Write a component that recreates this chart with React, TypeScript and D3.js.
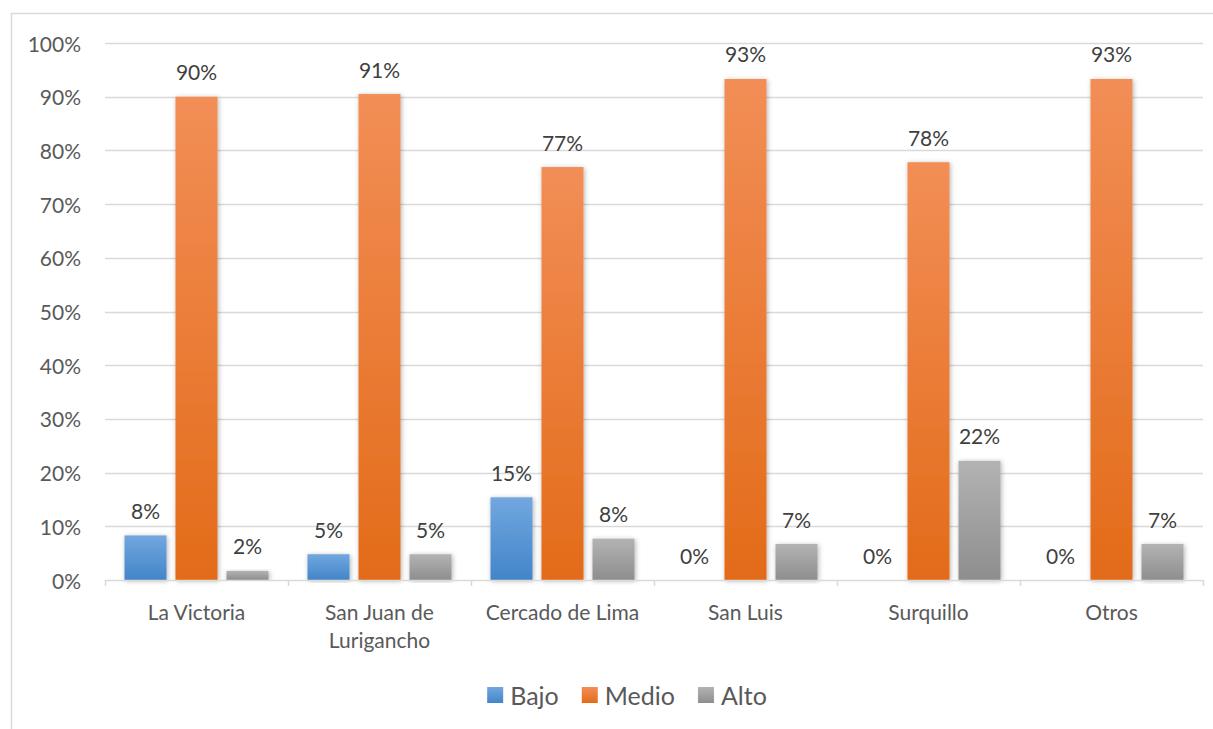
import React, { useEffect, useRef } from 'react';
import * as d3 from 'd3';

const categories = ['La Victoria', 'San Juan de Lurigancho', 'Cercado de Lima', 'San Luis', 'Surquillo', 'Otros'];
const categoryLines = [['La Victoria'], ['San Juan de', 'Lurigancho'], ['Cercado de Lima'], ['San Luis'], ['Surquillo'], ['Otros']];
const series = ['Bajo', 'Medio', 'Alto'];
const bajo = [0.083, 0.048, 0.154, 0, 0, 0];
const medio = [0.9, 0.905, 0.769, 0.933, 0.778, 0.933];
const alto = [0.017, 0.048, 0.077, 0.067, 0.222, 0.067];
const yTicks = [0, 0.1, 0.2, 0.3, 0.4, 0.5, 0.6, 0.7, 0.8, 0.9, 1];

const colors: Record<string, [string, string]> = {
    Bajo: ['#72a7de', '#4285ca'],
    Medio: ['#f28e56', '#e36b19'],
    Alto: ['#b3b3b3', '#8e8e8e'],
};

const FONT = 'Lato, "Open Sans", sans-serif';

const App: React.FC = () => {
    const ref = useRef<SVGSVGElement | null>(null);

    useEffect(() => {
        const svg = d3.select(ref.current);
        svg.selectAll('*').remove();

        const W = 1213, H = 729;
        const left = 105, right = 1203, top = 43, bottom = 580;

        const defs = svg.append('defs');
        series.forEach(s => {
            const g = defs.append('linearGradient')
                .attr('id', `grad-${s}`)
                .attr('x1', 0).attr('y1', 0).attr('x2', 0).attr('y2', 1);
            g.append('stop').attr('offset', '0%').attr('stop-color', colors[s][0]);
            g.append('stop').attr('offset', '100%').attr('stop-color', colors[s][1]);
        });
        const f = defs.append('filter').attr('id', 'shadow')
            .attr('x', '-30%').attr('y', '-10%').attr('width', '160%').attr('height', '120%');
        f.append('feDropShadow')
            .attr('dx', 1).attr('dy', 1).attr('stdDeviation', 2.5)
            .attr('flood-color', '#000').attr('flood-opacity', 0.3);

        svg.append('rect').attr('width', W).attr('height', H).attr('fill', '#fff');
        // outer frame (runs off the right and bottom edges)
        svg.append('rect')
            .attr('x', 11.5).attr('y', 13.5)
            .attr('width', W + 20).attr('height', H + 20)
            .attr('fill', 'none').attr('stroke', '#d9d9d9').attr('stroke-width', 1.5);

        const x = d3.scaleBand<string>().domain(categories).range([left, right]);
        const xs = d3.scaleBand<string>().domain(series)
            .range([0, x.bandwidth()]).paddingInner(0.176).paddingOuter(0.382);
        const y = d3.scaleLinear().domain([0, 1]).range([bottom, top]);

        // gridlines
        svg.append('g').selectAll('line')
            .data(yTicks.filter(t => t > 0))
            .join('line')
            .attr('x1', left).attr('x2', right)
            .attr('y1', d => Math.round(y(d)) + 0.5).attr('y2', d => Math.round(y(d)) + 0.5)
            .attr('stroke', '#d9d9d9').attr('stroke-width', 1.5);

        // y labels
        svg.append('g').selectAll('text')
            .data(yTicks)
            .join('text')
            .attr('x', 81).attr('y', d => y(d))
            .attr('text-anchor', 'end').attr('dominant-baseline', 'central')
            .attr('font-family', FONT).attr('font-size', 21).attr('fill', '#595959')
            .text(d => d3.format('.0%')(d));

        const values = [bajo, medio, alto];
        const rows = series.flatMap((s, si) => categories.map((c, ci) => ({ s, c, ci, v: values[si][ci] })));

        svg.append('g').selectAll('rect')
            .data(rows.filter(d => d.v > 0))
            .join('rect')
            .attr('x', d => (x(d.c) as number) + (xs(d.s) as number))
            .attr('y', d => y(d.v))
            .attr('width', xs.bandwidth())
            .attr('height', d => bottom - y(d.v))
            .attr('fill', d => `url(#grad-${d.s})`)
            .attr('filter', 'url(#shadow)');

        // axis line + category ticks
        const axis = svg.append('g');
        axis.append('line')
            .attr('x1', left).attr('x2', right)
            .attr('y1', bottom + 0.5).attr('y2', bottom + 0.5)
            .attr('stroke', '#d9d9d9').attr('stroke-width', 1.5);
        axis.selectAll('line.tick')
            .data([...categories.map(c => x(c) as number), right])
            .join('line')
            .attr('class', 'tick')
            .attr('x1', d => d + 0.5).attr('x2', d => d + 0.5)
            .attr('y1', bottom).attr('y2', bottom + 6)
            .attr('stroke', '#d9d9d9').attr('stroke-width', 1.5);

        // data labels
        svg.append('g').selectAll('text')
            .data(rows)
            .join('text')
            .attr('x', d => (x(d.c) as number) + (xs(d.s) as number) + xs.bandwidth() / 2)
            .attr('y', d => y(d.v) - 25)
            .attr('text-anchor', 'middle').attr('dominant-baseline', 'central')
            .attr('font-family', FONT).attr('font-size', 21).attr('fill', '#404040')
            .text(d => d3.format('.0%')(d.v));

        // category labels
        const cl = svg.append('g');
        categories.forEach((c, i) => {
            categoryLines[i].forEach((line, li) => {
                cl.append('text')
                    .attr('x', (x(c) as number) + x.bandwidth() / 2)
                    .attr('y', 611 + li * 28)
                    .attr('text-anchor', 'middle').attr('dominant-baseline', 'central')
                    .attr('font-family', FONT).attr('font-size', 21).attr('fill', '#595959')
                    .text(line);
            });
        });

        // legend
        const lg = svg.append('g');
        const items = series.map(s => {
            const g = lg.append('g');
            g.append('rect').attr('width', 16).attr('height', 16).attr('y', -8)
                .attr('fill', `url(#grad-${s})`);
            const t = g.append('text')
                .attr('x', 23).attr('dominant-baseline', 'central')
                .attr('font-family', FONT).attr('font-size', 25).attr('fill', '#595959')
                .text(s);
            const w = 23 + (t.node() as SVGTextElement).getComputedTextLength();
            return { g, w };
        });
        const gap = 23;
        const total = d3.sum(items, d => d.w) + gap * (items.length - 1);
        let cx = 627 - total / 2;
        items.forEach(it => {
            it.g.attr('transform', `translate(${cx},695)`);
            cx += it.w + gap;
        });
    }, []);

    return <svg ref={ref} width={1213} height={729} style={{ position: 'absolute', left: 0, top: 0 }}></svg>;
};

export default App;
